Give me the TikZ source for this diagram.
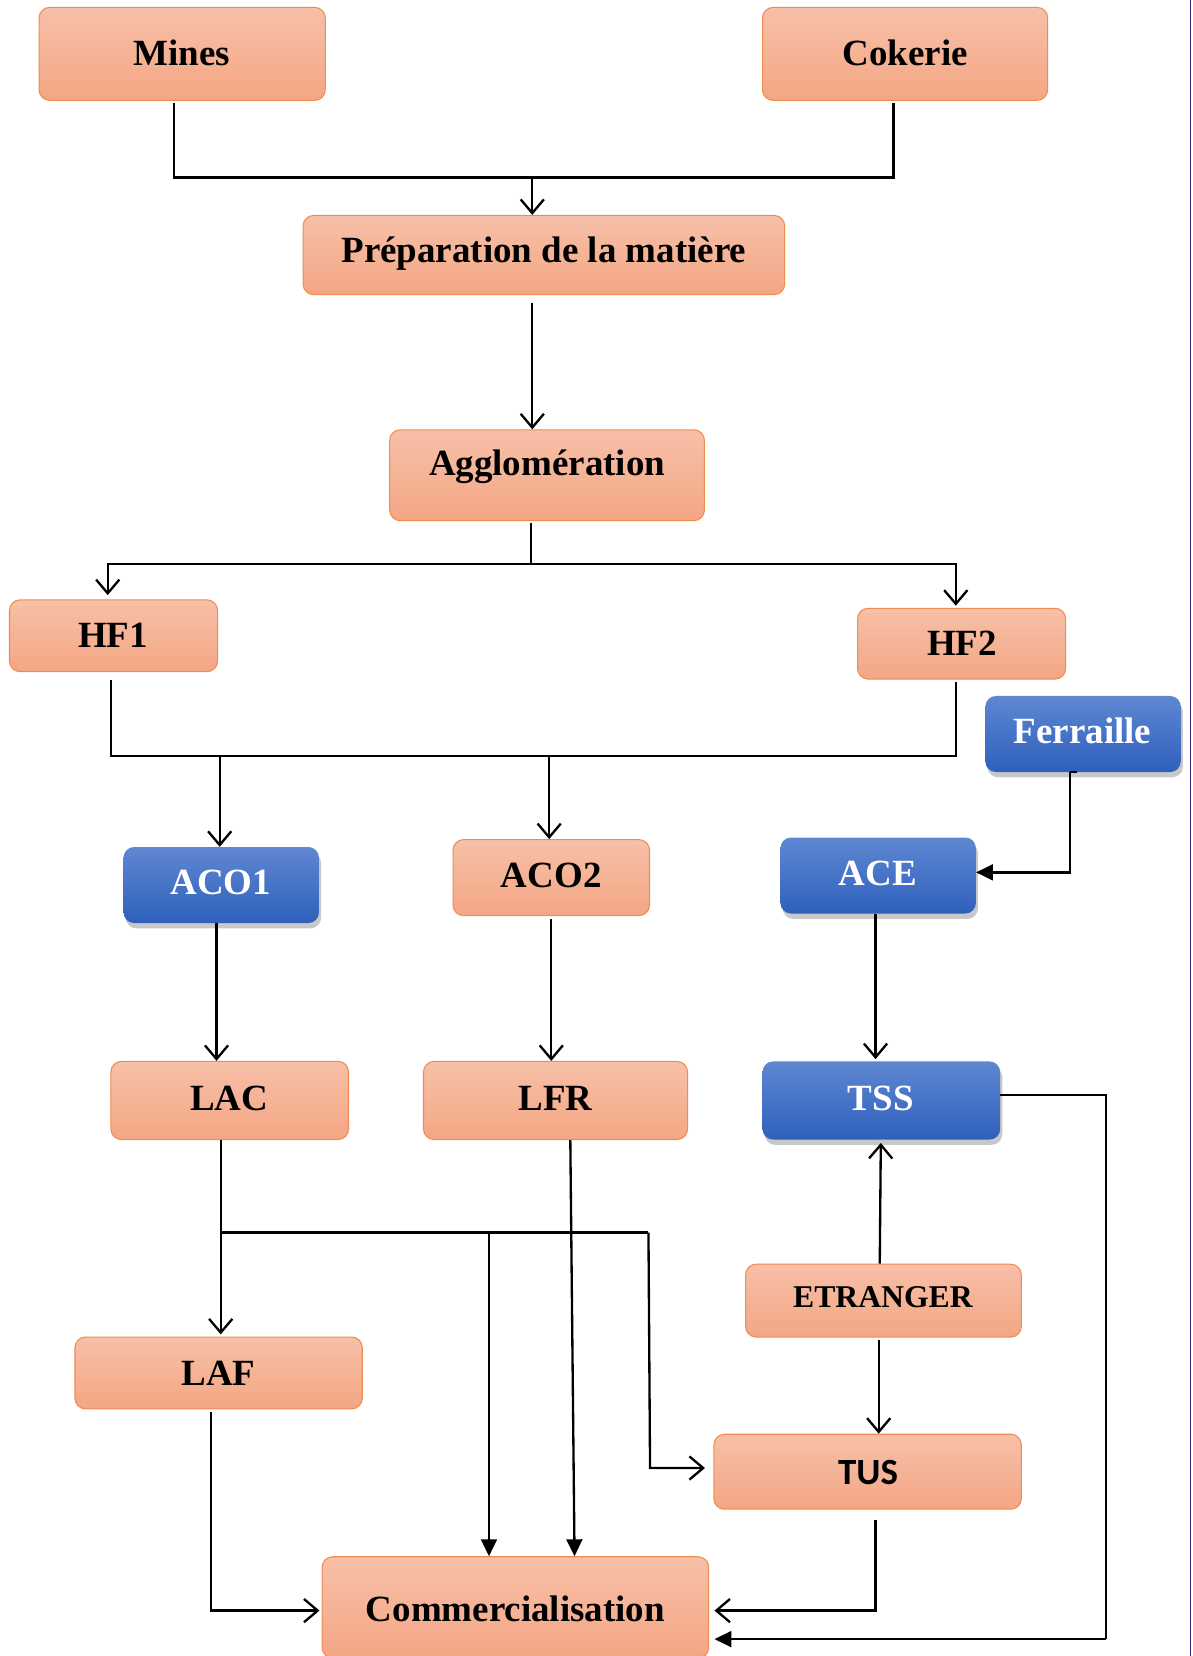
\documentclass[tikz,border=0pt]{standalone}
\usepackage{fontspec}
\setmainfont{Liberation Serif}
\newfontfamily\tusfont{Carlito}
\usetikzlibrary{arrows.meta,calc,shadows}
\definecolor{otop}{RGB}{247,192,168}
\definecolor{obot}{RGB}{244,166,132}
\definecolor{oborder}{RGB}{240,140,80}
\definecolor{btop}{RGB}{95,135,210}
\definecolor{bbot}{RGB}{46,96,188}
\definecolor{edgeblue}{RGB}{40,40,120}
\tikzset{
  obox/.style={draw=oborder, line width=1pt, rounded corners=10pt, top color=otop, bottom color=obot, inner sep=0pt},
  bbox/.style={rounded corners=10pt, top color=btop, bottom color=bbot, inner sep=0pt,
    drop shadow={shadow xshift=2pt, shadow yshift=-5pt, opacity=0.3, fill=black!70}},
  lbl/.style={font=\bfseries\fontsize{35}{40}\selectfont, inner sep=0pt, text=black},
  wlbl/.style={lbl, text=white},
  conn/.style={line width=2.2pt, draw=black},
  arr/.style={conn, -{Straight Barb[length=13pt,width=22pt]}},
  arrF/.style={conn, -{Triangle[length=16pt,width=15pt]}},
}
\begin{document}
\begin{tikzpicture}[x=1pt,y=-1pt]
\useasboundingbox (0,0) rectangle (1129,1568);
\fill[white] (0,0) rectangle (1129,1568);

% boxes
\node[obox, minimum width=271pt, minimum height=88pt] (mines) at (172.5,51) {};
\node[lbl] (minesT) at (172,50) {Mines};
\node[obox, minimum width=270pt, minimum height=88pt] (coke) at (857,51) {};
\node[lbl] (cokeT) at (857,50) {Cokerie};
\node[obox, minimum width=456pt, minimum height=75pt] (prep) at (515,241.5) {};
\node[lbl] (prepT) at (515,240) {Préparation de la matière};
\node[obox, minimum width=298pt, minimum height=86pt] (aggl) at (518,450) {};
\node[lbl] (agglT) at (518,442) {Agglomération};
\node[obox, minimum width=197pt, minimum height=68pt] (hf1) at (107.5,602) {};
\node[lbl] (hf1T) at (107,602) {HF1};
\node[obox, minimum width=197pt, minimum height=67pt] (hf2) at (910.5,609.5) {};
\node[lbl] (hf2T) at (911,609) {HF2};
\node[bbox, minimum width=185pt, minimum height=72pt] (ferr) at (1025.5,695) {};
\node[wlbl] (ferrT) at (1025,692) {Ferraille};
\node[bbox, minimum width=185pt, minimum height=72pt] (aco1) at (209.5,838) {};
\node[wlbl] (aco1T) at (209,836) {ACO1};
\node[obox, minimum width=186pt, minimum height=72pt] (aco2) at (522,831) {};
\node[lbl] (aco2T) at (522,829) {ACO2};
\node[bbox, minimum width=185pt, minimum height=72pt] (ace) at (831.5,829) {};
\node[wlbl] (aceT) at (831,827) {ACE};
\node[obox, minimum width=225pt, minimum height=74pt] (lac) at (217.5,1042) {};
\node[lbl] (lacT) at (217,1040) {LAC};
\node[obox, minimum width=250pt, minimum height=74pt] (lfr) at (526,1042) {};
\node[lbl] (lfrT) at (526,1040) {LFR};
\node[bbox, minimum width=225pt, minimum height=74pt] (tss) at (834.5,1042) {};
\node[wlbl] (tssT) at (834,1040) {TSS};
\node[obox, minimum width=261pt, minimum height=69pt] (etr) at (836.5,1231.5) {};
\node[lbl, font=\bfseries\fontsize{30}{36}\selectfont] (etrT) at (836,1228) {ETRANGER};
\node[obox, minimum width=272pt, minimum height=68pt] (laf) at (207,1300) {};
\node[lbl] (lafT) at (207,1300) {LAF};
\node[obox, minimum width=291pt, minimum height=71pt] (tus) at (821.5,1393.5) {};
\node[lbl, font=\tusfont\bfseries\fontsize{35}{40}\selectfont] (tusT) at (822,1394) {TUS};
\node[obox, minimum width=366pt, minimum height=96pt] (com) at (488,1522) {};
\node[lbl] (comT) at (488,1523) {Commercialisation};

% junctions
\coordinate (j1) at (504,168);
\coordinate (j2) at (503,534);
\coordinate (j3) at (208,716);
\coordinate (j4) at (520,716);
\coordinate (j5) at (209,1167);
\coordinate (j6) at (463,1167);
\coordinate (j7) at (614,1167);
\coordinate (j8) at (1047,1552);

% connectors
\draw[conn] ($(mines.south)+(-7.5,2)$) |- (j1) -| ($(coke.south)+(-11,2)$);
\draw[arr] (j1) -- (prep.north -| j1);
\draw[arr] ($(prep.south -| j1)+(0,7)$) -- (aggl.north -| j1);
\draw[conn] ($(aggl.south)+(-15,2)$) -- (j2);
\draw[arr] (j2) -| ($(hf1.north)+(-5.5,-4)$);
\draw[arr] (j2) -| ($(hf2.north)+(-5.5,-2)$);
\draw[conn] ($(hf1.south)+(-2.5,7)$) |- (j3) -| ($(hf2.south)+(-5.5,2)$);
\draw[arr] (j3) -- (aco1.north -| j3);
\draw[arr] (j4) -- (aco2.north -| j4);
\draw[conn] ($(ferr.south)+(-5.5,0)$) -- ++(-7,0) coordinate (fk);
\draw[arrF] (fk) |- ($(ace.east)+(0,-3)$);
\draw[arr] ($(aco1.south)+(-4.5,0)$) -- ($(lac.north)+(-12.5,0)$);
\draw[arr] ($(aco2.south)+(0,3)$) -- ($(lfr.north)+(-4,0)$);
\draw[arr] ($(ace.south)+(-2.5,0)$) -- ($(tss.north)+(-5.5,-2)$);
\draw[arr] ($(lac.south)+(-8.5,0)$) -- ($(laf.north)+(2,-2)$);
\draw[conn] (j5) -- (j7);
\draw[arr] (j7) -- ($(tus.west)+(-60,-3.5)$) -- ($(tus.west)+(-8,-3.5)$);
\draw[arrF] (j6) -- (com.north -| j6);
\draw[arrF] ($(lfr.south)+(14,0)$) -- ($(com.north)+(56,0)$);
\draw[arr] ($(etr.north)+(-3.5,0)$) -- ($(tss.south)+(-0.5,3)$);
\draw[arr] ($(etr.south)+(-4.5,2)$) -- ($(tus.north)+(10.5,0)$);
\draw[arr] ($(laf.south)+(-7,2)$) |- ($(com.west)+(-2,3)$);
\draw[arr] ($(tus.south)+(7.5,10)$) |- ($(com.east)+(5,3)$);
\draw[conn] ($(tss.east)+(0,-5)$) -| (j8);
\draw[arrF] (j8) -- ($(com.east)+(5,30)$);

% page edge
\draw[edgeblue, line width=1pt] (1127.5,0) -- (1127.5,1568);
\end{tikzpicture}
\end{document}
